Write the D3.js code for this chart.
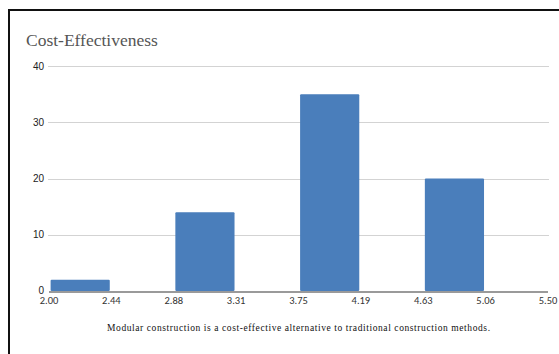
<!DOCTYPE html>
<html>
<head>
<meta charset="utf-8">
<script src="https://cdn.jsdelivr.net/npm/d3@7"></script>
<style>
  html, body { margin: 0; padding: 0; background: #fff; }
  svg { display: block; }
</style>
</head>
<body>
<svg id="chart" width="559" height="354"></svg>
<script>
// Histogram bins (edges) and counts per bin
const binEdges = ["2.00", "2.44", "2.88", "3.31", "3.75", "4.19", "4.63", "5.06", "5.50"];
const binCounts = [2, 0, 14, 0, 35, 0, 20, 0];
const yTicks = [0, 10, 20, 30, 40];
const titleText = "Cost-Effectiveness";
const captionText = "Modular construction is a cost-effective alternative to traditional construction methods.";

const serif = "'Liberation Serif', serif";
const sans = "'Liberation Sans', sans-serif";
const narrowSans = "Carlito, Lato, sans-serif";

const svg = d3.select("#chart");
const W = 559, H = 354;
const plotLeft = 49, plotRight = 548, plotTop = 66, plotBottom = 291;

svg.append("rect").attr("width", W).attr("height", H).attr("fill", "#fff");

// outer frame (top and left edges visible)
svg.append("path")
  .attr("d", `M9,${H + 2} L9,10 L${W + 2},10`)
  .attr("fill", "none").attr("stroke", "#111").attr("stroke-width", 2);

const x = d3.scaleLinear().domain([0, binCounts.length]).range([plotLeft, plotRight]);
const y = d3.scaleLinear().domain([0, 40]).range([plotBottom, plotTop]);

// gridlines
svg.append("g").selectAll("line").data(yTicks.filter(d => d > 0)).join("line")
  .attr("x1", plotLeft - 1).attr("x2", plotRight + 1)
  .attr("y1", d => Math.round(y(d)) + 0.5).attr("y2", d => Math.round(y(d)) + 0.5)
  .attr("stroke", "#d3d3d3").attr("stroke-width", 1);

// y tick labels
svg.append("g").selectAll("text").data(yTicks).join("text")
  .attr("x", 44).attr("y", d => y(d) + (d === 0 ? 2.5 : 3.5))
  .attr("text-anchor", "end")
  .style("font-family", sans)
  .style("font-size", "10px").attr("fill", "#222")
  .text(d => d);

// bars
const pad = 1.6;
svg.append("g").selectAll("rect").data(binCounts.map((v, i) => ({ v, i })).filter(d => d.v > 0)).join("rect")
  .attr("x", d => x(d.i) + pad)
  .attr("width", d => x(d.i + 1) - x(d.i) - 2 * pad)
  .attr("y", d => y(d.v))
  .attr("height", d => y(0) - y(d.v))
  .attr("fill", "#4a7ebb")
  .attr("rx", 1);

// x axis baseline
svg.append("line")
  .attr("x1", plotLeft).attr("x2", plotRight)
  .attr("y1", plotBottom + 1).attr("y2", plotBottom + 1)
  .attr("stroke", "#9a9a9a").attr("stroke-width", 2);

// x tick labels at bin edges
svg.append("g").selectAll("text").data(binEdges).join("text")
  .attr("x", (d, i) => x(i)).attr("y", plotBottom + 13)
  .attr("text-anchor", "middle")
  .style("font-family", narrowSans)
  .style("font-size", "10.5px").attr("fill", "#333")
  .text(d => d);

// title
svg.append("text")
  .attr("x", 26).attr("y", 46)
  .style("font-family", serif)
  .style("font-size", "17.5px").attr("fill", "#555")
  .text(titleText);

// caption
svg.append("text")
  .attr("x", 107).attr("y", 331)
  .style("font-family", serif)
  .style("font-size", "9.5px").attr("fill", "#111")
  .attr("textLength", 383).attr("lengthAdjust", "spacing")
  .text(captionText);
</script>
</body>
</html>
